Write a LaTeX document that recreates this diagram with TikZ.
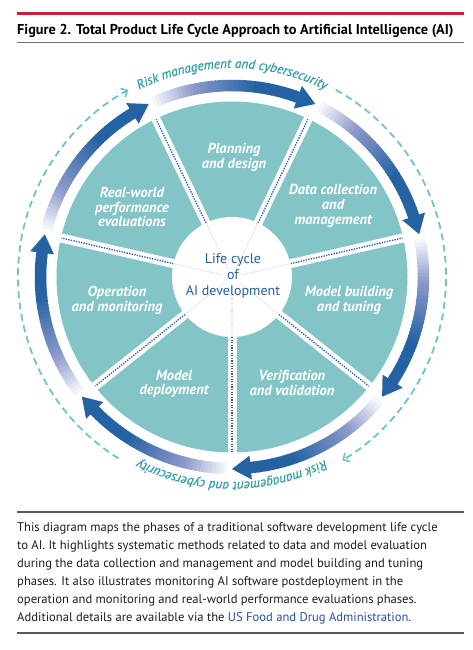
\documentclass[tikz,border=0pt]{standalone}
\usepackage{fontspec}
\setmainfont{PT Sans}
\newfontfamily\riskfont{PT Sans}[FakeBold=0.9]
\usetikzlibrary{decorations.text,arrows.meta}
\definecolor{wedgeteal}{RGB}{131,196,198}
\definecolor{dashteal}{RGB}{110,196,198}
\definecolor{risktext}{RGB}{52,160,166}
\definecolor{arrowblue}{RGB}{36,98,164}
\definecolor{lavc}{RGB}{140,154,202}
\definecolor{dotblue}{RGB}{40,88,168}
\definecolor{centerblue}{RGB}{36,96,160}
\definecolor{titlered}{RGB}{206,32,52}
\definecolor{linkblue}{RGB}{40,80,160}
\definecolor{rulegray}{RGB}{110,110,110}
\definecolor{captext}{RGB}{30,30,30}
\tikzset{
  phase/.style={align=center, text=white, inner sep=0pt,
    font=\fontsize{14.5}{14.8}\selectfont\bfseries\itshape},
  hub/.style={align=center, text=centerblue, inner sep=0pt,
    font=\fontsize{14}{16}\selectfont},
  gap/.style={white, line width=9pt},
  dotline/.style={dotblue, line width=1.3pt, dash pattern=on 1.3pt off 1.3pt},
  riskring/.style={dashteal, line width=1.8pt, dash pattern=on 7pt off 4.5pt,
    -{Straight Barb[length=5pt,width=10pt,line width=1.6pt]}},
}
\begin{document}
\begin{tikzpicture}[x=1pt,y=1pt]
\useasboundingbox (0,0) rectangle (473,650);
\fill[white] (0,0) rectangle (473,650);
% header
\coordinate (r1) at (17,636); \coordinate (r2) at (464,636);
\draw[titlered, line width=3pt] (r1) -- (r2);
\node[anchor=base west, inner sep=0pt, font=\fontsize{14.3}{16}\selectfont\bfseries] (title) at (17,615)
  {Figure 2. Total Product Life Cycle Approach to Artificial Intelligence (AI)};
\coordinate (g1) at (17,607.3); \coordinate (g2) at (464,607.3);
\draw[rulegray, line width=1.3pt] (g1) -- (g2);
% wheel
\coordinate (C) at (232,373);
\begin{scope}[shift={(C)}]
  \fill[wedgeteal] (0,0) circle[radius=175.5pt];
  \foreach \k in {0,...,6}{
    \pgfmathsetmacro\d{-90+51.428571*\k}
    \draw[gap] (0,0) -- (\d:176.5pt);
    \draw[dotline] (\d:60pt) -- (\d:175pt);
  }
  \fill[white] (0,0) circle[radius=60pt];
  \foreach \k in {0,...,6}{
    \pgfmathsetmacro\d{-90+51.428571*\k}
    \draw[dotline, dotblue!20, line width=1.1pt] (\d:10pt) -- (\d:60pt);
  }
  % gradient arrows
  \foreach \k in {0,...,6}{
    \pgfmathsetmacro\tip{-90+51.428571*\k}
    \pgfmathsetmacro\st{\tip+51.428571-0.3}
    \pgfmathsetmacro\hb{\tip+5.6}
    \foreach \i in {0,...,39}{
      \pgfmathsetmacro\aa{\st-(\st-\hb)*\i/40}
      \pgfmathsetmacro\ab{\st-(\st-\hb)*(\i+1)/40-0.25}
      \pgfmathsetmacro\pA{min(100,\i/39/0.3*100)}
      \pgfmathsetmacro\pB{max(0,min(100,(\i/39-0.3)/0.42*100))}
      \colorlet{tmpc}{lavc!\pA!white}
      \colorlet{segc}{arrowblue!\pB!tmpc}
      \draw[segc, line width=11.5pt] (\aa:191.5pt) arc[start angle=\aa, end angle=\ab, radius=191.5pt];
    }
    \fill[arrowblue] (\hb:179.5pt) -- (\tip:192pt) -- (\hb:203.5pt) -- cycle;
  }
  % dashed risk ring
  \draw[riskring] (61:214pt) arc[start angle=61, end angle=-59, radius=214pt];
  \draw[riskring] (-122:214pt) arc[start angle=-122, end angle=-241, radius=214pt];
  \path[decorate, decoration={text along path, text align=center, text color=risktext,
     text={|\fontsize{13.2}{14}\riskfont\itshape|Risk management and cybersecurity}}]
     (150:209pt) arc[start angle=150, end angle=30, radius=209pt];
  \path[decorate, decoration={text along path, text align=center, text color=risktext,
     text={|\fontsize{13.2}{14}\riskfont\itshape|Risk management and cybersecurity}}]
     (-30:205pt) arc[start angle=-30, end angle=-150, radius=205pt];
\end{scope}
% labels
\node[hub] (hubtext) at (233,374) {Life cycle\\of\\AI development};
\node[phase] (plan) at (234,493) {Planning\\and design};
\node[phase] (data) at (333,444) {Data collection\\and\\management};
\node[phase] (build) at (349,350) {Model building\\and tuning};
\node[phase] (verif) at (292,267) {Verification\\and validation};
\node[phase] (deploy) at (174,266) {Model\\deployment};
\node[phase] (oper) at (117,350) {Operation\\and monitoring};
\node[phase] (rwe) at (132,443) {Real-world\\performance\\evaluations};
% caption
\coordinate (c1) at (17,138); \coordinate (c2) at (464,138);
\draw[rulegray!80!black, line width=1.3pt] (c1) -- (c2);
\node[anchor=north west, inner sep=0pt, align=left, text=captext,
  font=\fontsize{12.6}{17.9}\selectfont] (caption) at (17,127.5)
  {This diagram maps the phases of a traditional software development life cycle\\
   to AI. It highlights systematic methods related to data and model evaluation\\
   during the data collection and management and model building and tuning\\
   phases. It also illustrates monitoring AI software postdeployment in the\\
   operation and monitoring and real-world performance evaluations phases.\\
   Additional details are available via the \textcolor{linkblue}{US Food and Drug Administration}.};
\coordinate (c3) at (17,17); \coordinate (c4) at (464,17);
\draw[rulegray!80!black, line width=1.3pt] (c3) -- (c4);
\end{tikzpicture}
\end{document}
